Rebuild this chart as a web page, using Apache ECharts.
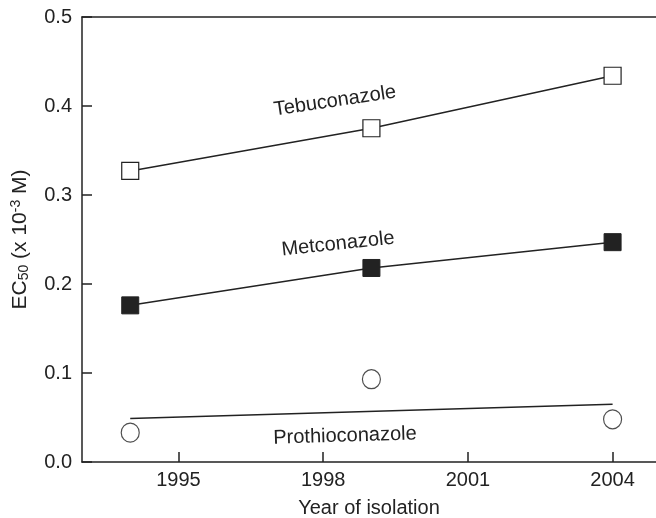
<!DOCTYPE html>
<html>
<head>
<meta charset="utf-8">
<script src="https://cdn.jsdelivr.net/npm/echarts@6/dist/echarts.min.js"></script>
<style>
  html, body { margin: 0; padding: 0; background: #fff; }
  #chart { width: 656px; height: 518px; }
</style>
</head>
<body>
<div id="chart"></div>
<script>
const years = [1994, 1999, 2004];
const tebuconazole = [0.327, 0.375, 0.434];
const metconazole = [0.176, 0.218, 0.247];
const prothioconazole = [0.033, 0.093, 0.048];
const prothioTrendYears = [1994, 2004];
const prothioTrend = [0.049, 0.065];
const xTicks = [1995, 1998, 2001, 2004];

const chart = echarts.init(document.getElementById("chart"));
const font = "Liberation Sans, Arial, sans-serif";
const ink = "#222";

const pairs = (xs, ys) => xs.map((x, i) => [x, ys[i]]);

// series name labels drawn along the lines
const seriesLabel = (text, x, y, deg) => ({
  type: "text",
  x: x,
  y: y,
  rotation: deg * Math.PI / 180,
  style: { text: text, font: "20px " + font, fill: ink, align: "center", verticalAlign: "middle" }
});

const option = {
  animation: false,
  backgroundColor: "#fff",
  grid: { left: 82, right: 0, top: 17, bottom: 56, outerBoundsMode: "none", containLabel: false },
  xAxis: [
    {
      type: "value",
      min: 1993,
      max: 2004.9,
      name: "Year of isolation",
      nameLocation: "middle",
      nameGap: 36,
      nameTextStyle: { color: ink, fontSize: 20, fontFamily: font },
      axisLine: { lineStyle: { color: ink, width: 1.5 } },
      axisTick: { inside: true, length: 10, customValues: xTicks, lineStyle: { color: ink, width: 1.5 } },
      axisLabel: { customValues: xTicks, color: ink, fontSize: 20, fontFamily: font, margin: 8, formatter: v => String(v) },
      splitLine: { show: false }
    },
    {
      type: "value",
      position: "top",
      min: 1993,
      max: 2004.9,
      axisLine: { show: true, lineStyle: { color: ink, width: 1.5 } },
      axisTick: { show: false },
      axisLabel: { show: false },
      splitLine: { show: false }
    }
  ],
  yAxis: {
    type: "value",
    min: 0,
    max: 0.5,
    interval: 0.1,
    name: "{n|EC}{s|50}{n| (x 10}{p|-3}{n| M)}",
    nameLocation: "middle",
    nameGap: 51,
    nameTextStyle: {
      rich: {
        n: { color: ink, fontSize: 21, fontFamily: font, lineHeight: 22 },
        s: { color: ink, fontSize: 14, fontFamily: font, verticalAlign: "bottom", lineHeight: 22, padding: [9, 0, 0, 0] },
        p: { color: ink, fontSize: 14, fontFamily: font, verticalAlign: "top", lineHeight: 22, padding: [0, 0, 9, 0] }
      }
    },
    axisLine: { show: true, lineStyle: { color: ink, width: 1.5 } },
    axisTick: { show: true, inside: true, length: 10, lineStyle: { color: ink, width: 1.5 } },
    axisLabel: { color: ink, fontSize: 20, fontFamily: font, margin: 10, formatter: v => v.toFixed(1) },
    splitLine: { show: false }
  },
  graphic: [
    seriesLabel("Tebuconazole", 335, 101, 8.5),
    seriesLabel("Metconazole", 338, 244, 6),
    seriesLabel("Prothioconazole", 345, 436, 1.7)
  ],
  series: [
    {
      name: "Tebuconazole",
      type: "line",
      data: pairs(years, tebuconazole),
      symbol: "rect",
      symbolSize: 17,
      lineStyle: { color: ink, width: 1.5 },
      itemStyle: { color: "#fff", borderColor: ink, borderWidth: 1.2 },
      z: 3
    },
    {
      name: "Metconazole",
      type: "line",
      data: pairs(years, metconazole),
      symbol: "rect",
      symbolSize: 17,
      lineStyle: { color: ink, width: 1.5 },
      itemStyle: { color: ink, borderColor: ink, borderWidth: 1 },
      z: 3
    },
    {
      name: "Prothioconazole",
      type: "scatter",
      data: pairs(years, prothioconazole),
      symbol: "circle",
      symbolSize: [18, 19],
      itemStyle: { color: "#fff", borderColor: ink, borderWidth: 1.2 }
    },
    {
      name: "Prothioconazole trend",
      type: "line",
      data: pairs(prothioTrendYears, prothioTrend),
      symbol: "none",
      lineStyle: { color: ink, width: 1.5 }
    }
  ]
};

chart.setOption(option);
</script>
</body>
</html>
